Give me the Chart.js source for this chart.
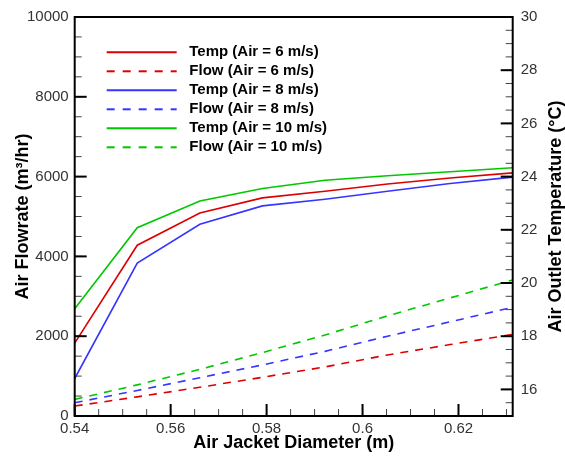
<!DOCTYPE html>
<html lang="en">
<head>
<meta charset="UTF-8" />
<title>Air Jacket Diameter</title>
<script src="https://cdn.jsdelivr.net/npm/chart.js@4.4.0/dist/chart.umd.min.js"></script>
<style>
  html, body { margin: 0; padding: 0; background: #fff; }
  #wrap { width: 565px; height: 456px; }
</style>
</head>
<body>
<div id="wrap"><canvas id="chart" width="565" height="456"></canvas></div>
<script>
// air jacket diameter (m)
const diameter = [0.54, 0.55304, 0.56609, 0.57913, 0.59217, 0.60521, 0.61826, 0.6313];

// outlet temperature (C), right axis
const temp6  = [17.74, 21.42, 22.63, 23.20, 23.45, 23.72, 23.95, 24.14];
const temp8  = [16.41, 20.75, 22.21, 22.90, 23.15, 23.45, 23.74, 23.98];
const temp10 = [19.03, 22.08, 23.08, 23.55, 23.86, 24.03, 24.18, 24.33];

// air flowrate (m3/hr), left axis
const flow6  = [249, 480, 720, 970, 1230, 1530, 1790, 2045];
const flow8  = [332, 640, 960, 1280, 1620, 2000, 2360, 2726];
const flow10 = [416, 780, 1170, 1590, 2030, 2510, 2960, 3410];

const seriesLabels = [
  'Temp (Air = 6 m/s)', 'Flow (Air = 6 m/s)',
  'Temp (Air = 8 m/s)', 'Flow (Air = 8 m/s)',
  'Temp (Air = 10 m/s)', 'Flow (Air = 10 m/s)'
];

const diamTicks = [0.54, 0.56, 0.58, 0.6, 0.62];
const flowTicks = [0, 2000, 4000, 6000, 8000, 10000];
const tempTicks = [16, 18, 20, 22, 24, 26, 28, 30];

function range(a, b, step) {
  const out = [];
  for (let v = a; v <= b + 1e-9; v += step) out.push(+v.toFixed(4));
  return out;
}
const diamMinor = range(0.54, 0.63, 0.005);
const flowMinor = range(0, 10000, 500);
const tempMinor = range(15, 30, 0.5);

const RED = '#dd0000', BLUE = '#3535ff', GREEN = '#00c800';

function pts(ys) { return diameter.map((x, i) => ({ x: x, y: ys[i] })); }

function line(label, ys, color, axis, dashed) {
  return {
    label: label, data: pts(ys), yAxisID: axis,
    borderColor: color, borderWidth: 1.6, borderDash: dashed ? [8, 7] : [],
    pointRadius: 0, tension: 0, fill: false
  };
}

const frameAndTicks = {
  id: 'frameAndTicks',
  afterDatasetsDraw(chart) {
    const { ctx, chartArea: a, scales } = chart;
    ctx.save();
    ctx.strokeStyle = '#000';
    const seg = (x1, y1, x2, y2) => { ctx.beginPath(); ctx.moveTo(x1, y1); ctx.lineTo(x2, y2); ctx.stroke(); };
    ctx.lineWidth = 1;
    ctx.strokeStyle = '#444';
    diamMinor.forEach(v => { const x = scales.x.getPixelForValue(v); seg(x, a.bottom, x, a.bottom - 7); });
    flowMinor.forEach(v => { const y = scales.y.getPixelForValue(v); seg(a.left, y, a.left + 7, y); });
    tempMinor.forEach(v => { const y = scales.y2.getPixelForValue(v); seg(a.right, y, a.right - 7, y); });
    ctx.lineWidth = 2;
    ctx.strokeStyle = '#000';
    diamTicks.forEach(v => { const x = scales.x.getPixelForValue(v); seg(x, a.bottom, x, a.bottom - 12); });
    flowTicks.forEach(v => { const y = scales.y.getPixelForValue(v); seg(a.left, y, a.left + 12, y); });
    tempTicks.forEach(v => { const y = scales.y2.getPixelForValue(v); seg(a.right, y, a.right - 12, y); });
    ctx.strokeRect(a.left, a.top, a.right - a.left, a.bottom - a.top);
    ctx.restore();
  },
  afterDraw(chart) {
    const { ctx, chartArea: a } = chart;
    ctx.save();
    // legend
    ctx.font = 'bold 15px "Liberation Sans", Arial, sans-serif';
    ctx.textBaseline = 'middle';
    ctx.textAlign = 'left';
    chart.data.datasets.forEach((ds, i) => {
      const y = a.top + 35.3 + i * 19;
      const x0 = a.left + 32;
      ctx.strokeStyle = ds.borderColor;
      ctx.lineWidth = 2;
      ctx.setLineDash(ds.borderDash.length ? [8, 8] : []);
      ctx.beginPath(); ctx.moveTo(x0, y); ctx.lineTo(x0 + 70, y); ctx.stroke();
      ctx.setLineDash([]);
      ctx.fillStyle = '#000';
      ctx.fillText(ds.label, a.left + 114.6, y);
    });
    // right axis title, reads bottom to top
    ctx.font = 'bold 18px "Liberation Sans", Arial, sans-serif';
    ctx.textAlign = 'center';
    ctx.translate(556.5, (a.top + a.bottom) / 2);
    ctx.rotate(-Math.PI / 2);
    ctx.fillText('Air Outlet Temperature (°C)', 0, 0);
    ctx.restore();
  }
};

const tickFont = { family: '"Liberation Sans", Arial, sans-serif', size: 15 };
const titleFont = { family: '"Liberation Sans", Arial, sans-serif', size: 18, weight: 'bold' };

new Chart(document.getElementById('chart'), {
  type: 'line',
  data: {
    datasets: [
      line(seriesLabels[0], temp6, RED, 'y2', false),
      line(seriesLabels[1], flow6, RED, 'y', true),
      line(seriesLabels[2], temp8, BLUE, 'y2', false),
      line(seriesLabels[3], flow8, BLUE, 'y', true),
      line(seriesLabels[4], temp10, GREEN, 'y2', false),
      line(seriesLabels[5], flow10, GREEN, 'y', true)
    ]
  },
  options: {
    responsive: false,
    animation: false,
    devicePixelRatio: 1,
    layout: { padding: { top: 14.7, left: 0, right: 0, bottom: 0 } },
    plugins: { legend: { display: false }, tooltip: { enabled: false } },
    scales: {
      x: {
        type: 'linear', position: 'bottom', min: 0.54, max: 0.6313,
        grid: { display: false, drawTicks: false },
        border: { display: false },
        afterBuildTicks: s => { s.ticks = diamTicks.map(v => ({ value: v })); },
        afterFit: s => { s.height = 40; },
        ticks: {
          font: tickFont, color: '#333', padding: 4, autoSkip: false, maxRotation: 0,
          callback: v => String(+v.toFixed(2))
        },
        title: { display: true, text: 'Air Jacket Diameter (m)', font: titleFont, color: '#000', padding: { top: 0, bottom: 2 } }
      },
      y: {
        type: 'linear', position: 'left', min: 0, max: 10000,
        grid: { display: false, drawTicks: false },
        border: { display: false },
        afterBuildTicks: s => { s.ticks = flowTicks.map(v => ({ value: v })); },
        afterFit: s => { s.width = 74.7; },
        ticks: { font: tickFont, color: '#333', padding: 6, autoSkip: false, callback: v => String(v) },
        title: { display: true, text: 'Air Flowrate (m³/hr)', font: titleFont, color: '#000', padding: { top: 12, bottom: 0 } }
      },
      y2: {
        type: 'linear', position: 'right', min: 15, max: 30,
        grid: { display: false, drawTicks: false },
        border: { display: false },
        afterBuildTicks: s => { s.ticks = tempTicks.map(v => ({ value: v })); },
        afterFit: s => { s.width = 565 - 512.7; },
        ticks: { font: tickFont, color: '#333', padding: 8, autoSkip: false, callback: v => String(v) }
      }
    }
  },
  plugins: [frameAndTicks]
});
</script>
</body>
</html>
